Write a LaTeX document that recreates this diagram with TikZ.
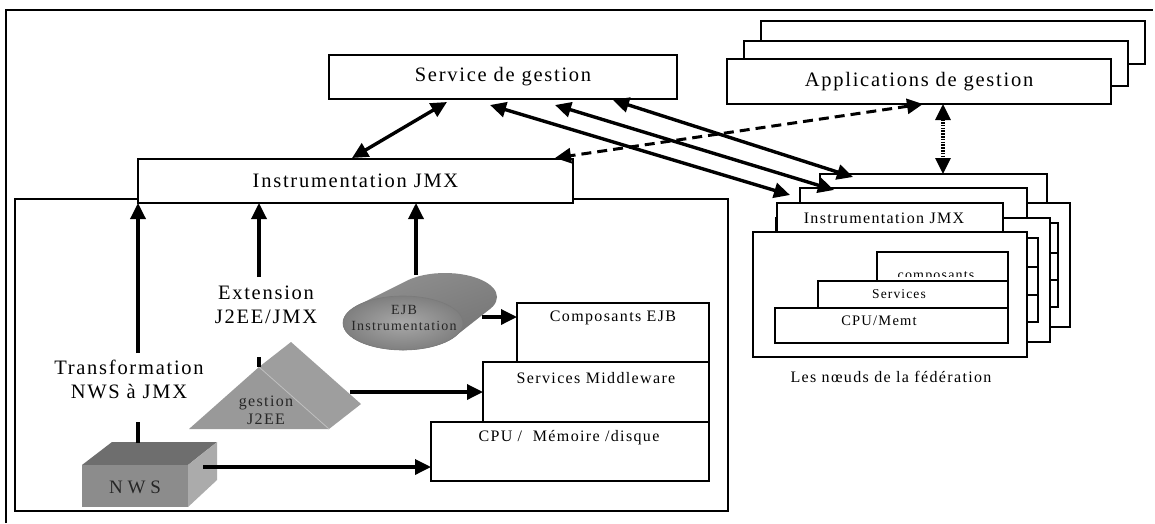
\documentclass[tikz,border=0pt]{standalone}
\usepackage{fontspec}
\setmainfont{Liberation Serif}[LetterSpace=8.5]
\usetikzlibrary{arrows.meta,calc}
\newcommand{\rbox}[6]{\node[box, minimum width=#4pt, minimum height=#5pt] (#1) at (#2,#3) {#6};}
\begin{document}
\begin{tikzpicture}[x=1pt,y=-1pt,
  box/.style={draw=black, fill=white, line width=1.5pt, outer sep=0pt, inner sep=0pt, anchor=north west},
  big/.style={font=\fontsize{20.5}{24}\selectfont},
  mid/.style={font=\fontsize{16}{19}\selectfont},
  small/.style={font=\fontsize{14}{16}\selectfont},
  link/.style={line width=3.4pt},
  tip/.tip={Triangle[length=16pt,width=15pt]},
  arr/.style={link, -tip},
  darr/.style={link, tip-tip},
]
\useasboundingbox (0,0) rectangle (1155,523);
\fill[white] (0,0) rectangle (1155,523);

% outer frame
\draw[line width=2.2pt] (6,523) -- (6,10) -- (1153,10);

% local platform
\rbox{cont}{15}{199}{713}{312}{}
\rbox{svc}{329}{55}{348}{44}{}
\node[big] at (svc.center) {Service de gestion};
\rbox{jmx}{138}{159}{435}{44}{}
\node[big] at (jmx.center) {Instrumentation JMX};

% management applications
\rbox{apps3}{761}{21}{384}{43}{}
\rbox{apps2}{744}{41}{384}{45}{}
\rbox{apps1}{727}{59}{384}{45}{}
\node[big] at (apps1.center) {Applications de gestion};

% managed resources
\rbox{comp}{517}{303}{192}{59}{}
\node[mid] at (613,318) {Composants EJB};
\rbox{svcmw}{483}{362}{226}{60}{}
\node[mid] at (596,378) {Services Middleware};
\rbox{cpu}{431}{422}{278}{59}{}
\node[mid] at (569,438) {CPU /\ \ Mémoire /disque};

% federation nodes, back to front
\rbox{fc-b}{798}{203}{272}{124}{}
\rbox{fc-h}{820}{174}{227}{29}{}
\rbox{fc-1}{922}{223}{136}{30}{}
\rbox{fc-2}{863}{253}{195}{27}{}
\rbox{fc-3}{820}{280}{238}{27}{}
\rbox{fb-b}{776}{218}{274}{124}{}
\rbox{fb-h}{800}{188}{227}{30}{}
\rbox{fb-1}{900}{238}{138}{29}{}
\rbox{fb-2}{841}{267}{197}{28}{}
\rbox{fb-3}{798}{295}{240}{27}{}
\rbox{fa-b}{753}{232}{274}{125}{}
\rbox{fa-h}{777}{203}{226}{29}{}
\node[mid] at (884,218) {Instrumentation JMX};
\rbox{fa-1}{877}{252}{131}{29}{}
\begin{scope}
  \clip (878,253) rectangle (1007,276);
  \node[small, anchor=base] at (936,279) {composants};
\end{scope}
\rbox{fa-2}{818}{281}{190}{27}{}
\node[font=\fontsize{13.5}{16}\selectfont] at (899,294) {Services};
\rbox{fa-3}{775}{308}{233}{35}{}
\node[font=\fontsize{14.5}{17}\selectfont] at (879,321) {CPU/Memt};
\node[mid] (cap) at (891,377) {Les nœuds de la fédération};

% EJB instrumentation cylinder
\begin{scope}
  \clip \foreach \t in {0,0.05,...,1.01} {({445-42*\t},{297+26*\t}) ellipse [x radius={52+8*\t}, y radius={24+3*\t}]};
  \shade[top color=black!42, middle color=black!34, bottom color=black!56, shading angle=20] (330,260) rectangle (510,360);
\end{scope}
\shade[inner color=black!34, outer color=black!50] (403,323) ellipse [x radius=60, y radius=27];
\draw[black!52, line width=0.6pt] (403,323) ellipse [x radius=60, y radius=27];
\node[small, align=center, text=black!85] (ejb) at (404,318) {EJB\\Instrumentation};

% J2EE management prism
\fill[black!40] (189,429) -- (259,367) -- (329,429) -- cycle;
\fill[black!38] (259,367) -- (291,342) -- (361,404) -- (329,429) -- cycle;
\draw[black!25, line width=0.8pt] (259,367) -- (329,429);
\node[font=\fontsize{16}{18}\selectfont, align=center, text=black!85] (j2ee) at (266,410) {gestion\\J2EE};

% NWS box
\fill[black!57] (82,465) -- (112,442) -- (217,442) -- (188,465) -- cycle;
\fill[black!45] (82,465) rectangle (188,507);
\fill[black!33] (188,465) -- (217,442) -- (217,480) -- (188,507) -- cycle;
\node[font=\fontsize{19}{22}\selectfont\addfontfeature{LetterSpace=25}, text=black!85] (nws) at (135,487) {NWS};

% anchor points on the shapes
\coordinate (nws-top) at (138,443);
\coordinate (nws-side) at (203,467);
\coordinate (tr-lo) at (138,422);
\coordinate (tr-hi) at (138,353);
\coordinate (j2ee-top) at (259,367);
\coordinate (j2ee-side) at (350,392);
\coordinate (ex-lo) at (259,357);
\coordinate (ex-hi) at (259,277);
\coordinate (ejb-top) at (416,275);
\coordinate (ejb-side) at (482,317);

% vertical arrows into the JMX layer
\draw[link] (nws-top) -- (tr-lo);
\draw[arr] (tr-hi) -- (tr-hi |- jmx.south);
\draw[link] (j2ee-top) -- (ex-lo);
\draw[arr] (ex-hi) -- (ex-hi |- jmx.south);
\draw[arr] (ejb-top) -- (ejb-top |- jmx.south);
\node[big, align=center] (trlbl) at (129,379) {Transformation\\NWS à JMX};
\node[big, align=center] (exlbl) at (266,305) {Extension\\J2EE/JMX};

% horizontal arrows to the resources
\draw[arr] (ejb-side) -- (ejb-side -| comp.west);
\draw[arr] (j2ee-side) -- (j2ee-side -| svcmw.west);
\draw[arr] (nws-side) -- (nws-side -| cpu.west);

% management links
\draw[darr] ($(svc.south west)+(118,3)$) -- ($(jmx.north west)+(214,-1)$);
\draw[darr] ($(svc.south west)+(161,6)$) -- ($(fa-h.north west)+(13,-8)$);
\draw[darr] ($(svc.south west)+(226,6)$) -- ($(fb-h.north west)+(34,2)$);
\draw[darr] ($(svc.south west)+(284,1)$) -- ($(fc-h.north west)+(33,3)$);
\draw[darr, line width=3pt, dash pattern=on 10pt off 6pt] ($(apps1.south west)+(196,0)$) -- ($(jmx.north east)+(-18,-1)$);
\draw[darr, line width=3.2pt, dash pattern=on 1.6pt off 1.2pt] ($(apps1.south west)+(216,0)$) -- ($(fc-h.north west)+(123,0)$);
\end{tikzpicture}
\end{document}
